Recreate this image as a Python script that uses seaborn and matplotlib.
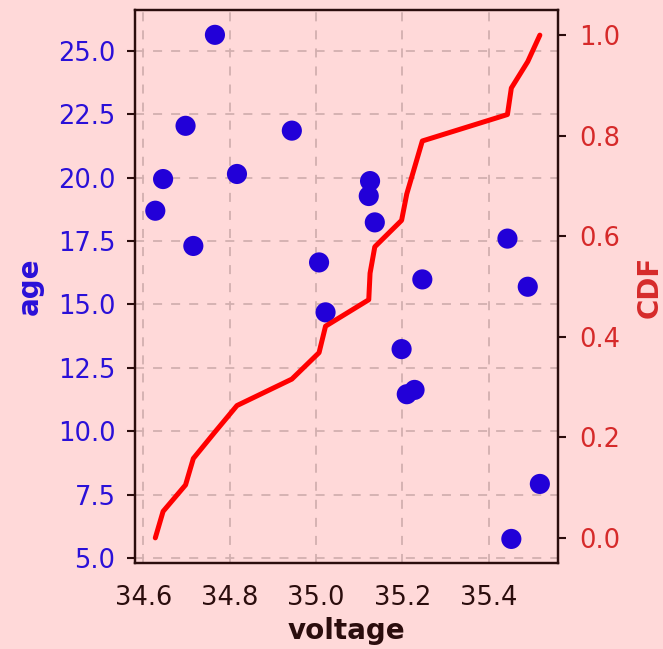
import numpy as np
import pandas as pd
import matplotlib
matplotlib.use("Agg")
import matplotlib.pyplot as plt
import seaborn as sns

voltage = [34.766, 34.698, 34.944, 34.646, 34.817, 34.628, 34.716, 35.125, 35.122, 35.136,
           35.007, 35.443, 35.246, 35.490, 35.022, 35.198, 35.210, 35.228, 35.518, 35.452]
age = [25.64, 22.05, 21.86, 19.95, 20.15, 18.70, 17.31, 19.87, 19.28, 18.24,
       16.66, 17.60, 15.99, 15.70, 14.69, 13.24, 11.46, 11.63, 7.92, 5.75]
age_ticks = [5.0, 7.5, 10.0, 12.5, 15.0, 17.5, 20.0, 22.5, 25.0]
cdf_ticks = [0.0, 0.2, 0.4, 0.6, 0.8, 1.0]
volt_ticks = [34.6, 34.8, 35.0, 35.2, 35.4]

df = pd.DataFrame({"voltage": voltage, "age": age})
sv = np.sort(np.array(voltage))
cdf_df = pd.DataFrame({"voltage": sv, "CDF": np.arange(len(sv)) / (len(sv) - 1)})

bg = "#ffd9d9"
dark = "#2b0d0d"
blue = "#2200d8"
blue_txt = "#2a10d8"
red = "#ff0000"
red_txt = "#d62a2a"

sns.set_theme(style="white")
plt.rcParams["font.family"] = "sans-serif"
plt.rcParams["font.sans-serif"] = ["DejaVu Sans"]

fig = plt.figure(figsize=(6.63, 6.49), dpi=100, facecolor=bg)
ax = fig.add_axes([135/663, 1-563/649, (558-135)/663, (563-10)/649])
ax.set_facecolor(bg)

sns.scatterplot(data=df, x="voltage", y="age", ax=ax, color=blue, s=210,
                edgecolor="none", zorder=3)
ax.set_xticks(volt_ticks)
ax.set_yticks(age_ticks)
ax.set_xlim(34.581, 35.56)
ax.set_ylim(4.8, 26.62)
ax.grid(True, linestyle=(0, (5, 5)), color="#d2afaf", linewidth=1.3)
ax.set_axisbelow(True)

ax.set_xlabel("voltage", fontsize=20, fontweight="bold", color=dark, labelpad=5)
ax.set_ylabel("age", fontsize=20, fontweight="bold", color=blue_txt, labelpad=10)
ax.tick_params(axis="x", labelsize=18.5, colors=dark, length=6, width=1.5, pad=9.5)
ax.tick_params(axis="y", labelsize=18.5, labelcolor=blue_txt, color=dark, length=6, width=1.5, pad=8)
ax.set_xticklabels([f"{t:.1f}" for t in volt_ticks])
ax.set_yticklabels([f"{t:.1f}" for t in age_ticks])

ax2 = ax.twinx()
sns.lineplot(data=cdf_df, x="voltage", y="CDF", ax=ax2, color=red, linewidth=3.6,
             estimator=None, sort=True, zorder=4)
ax2.set_ylim(-0.05, 1.05)
ax2.set_yticks(cdf_ticks)
ax2.set_yticklabels([f"{t:.1f}" for t in cdf_ticks])
ax2.set_ylabel("CDF", fontsize=20, fontweight="bold", color=red_txt, labelpad=11)
ax2.tick_params(axis="y", labelsize=18.5, labelcolor=red_txt, color=dark, length=6, width=1.5, pad=9)
ax2.grid(False)

for a in (ax, ax2):
    for sp in a.spines.values():
        sp.set_color(dark)
        sp.set_linewidth(1.6)

fig.savefig("out.png", dpi=100, facecolor=bg)
